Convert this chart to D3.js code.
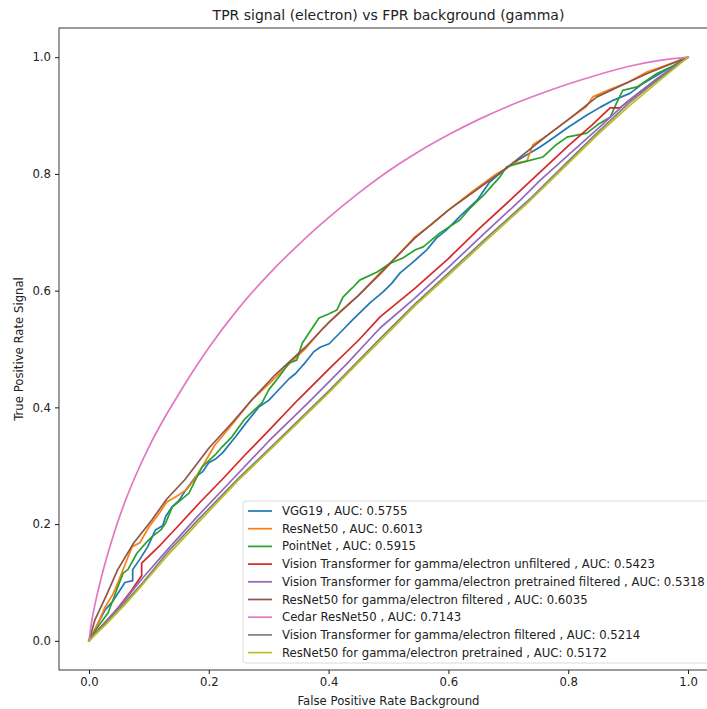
<!DOCTYPE html>
<html>
<head>
<meta charset="utf-8">
<script src="https://cdn.jsdelivr.net/npm/d3@7"></script>
<style>
  body { margin: 0; background: #fff; }
  svg { display: block; font-family: "DejaVu Sans", sans-serif; }
</style>
</head>
<body>
<div id="chart-area"></div>
<script>
const modelNames = [
  "VGG19",
  "ResNet50",
  "PointNet",
  "Vision Transformer for gamma/electron unfiltered",
  "Vision Transformer for gamma/electron pretrained filtered",
  "ResNet50 for gamma/electron filtered",
  "Cedar ResNet50",
  "Vision Transformer for gamma/electron filtered",
  "ResNet50 for gamma/electron pretrained"
];
const aucValues = ["0.5755", "0.6013", "0.5915", "0.5423", "0.5318", "0.6035", "0.7143", "0.5214", "0.5172"];
const colors = ["#1f77b4", "#ff7f0e", "#2ca02c", "#d62728", "#9467bd", "#8c564b", "#e377c2", "#7f7f7f", "#bcbd22"];
const ticks = [0, 0.2, 0.4, 0.6, 0.8, 1.0];

// [fpr, tpr]
const rocVgg19 = [[0,0],[0.010,0.020],[0.027,0.053],[0.040,0.068],[0.052,0.087],[0.060,0.100],[0.073,0.103],[0.073,0.122],[0.085,0.140],[0.098,0.161],[0.111,0.190],[0.123,0.197],[0.128,0.213],[0.139,0.230],[0.150,0.240],[0.162,0.259],[0.178,0.281],[0.190,0.290],[0.200,0.305],[0.212,0.312],[0.223,0.322],[0.245,0.350],[0.262,0.373],[0.284,0.401],[0.300,0.412],[0.312,0.425],[0.334,0.449],[0.345,0.458],[0.362,0.478],[0.375,0.495],[0.386,0.503],[0.401,0.509],[0.424,0.533],[0.440,0.550],[0.452,0.562],[0.470,0.580],[0.491,0.598],[0.505,0.612],[0.519,0.630],[0.540,0.648],[0.564,0.670],[0.580,0.690],[0.597,0.704],[0.620,0.728],[0.648,0.755],[0.668,0.785],[0.686,0.801],[0.710,0.820],[0.753,0.846],[0.770,0.858],[0.800,0.880],[0.830,0.900],[0.853,0.914],[0.875,0.926],[0.903,0.938],[0.925,0.955],[0.953,0.972],[0.975,0.985],[1,1]];
const rocResnet = [[0,0],[0.015,0.030],[0.027,0.058],[0.040,0.080],[0.048,0.099],[0.060,0.130],[0.072,0.161],[0.085,0.168],[0.100,0.195],[0.115,0.215],[0.130,0.238],[0.150,0.250],[0.163,0.259],[0.175,0.275],[0.190,0.300],[0.210,0.335],[0.240,0.372],[0.272,0.413],[0.300,0.440],[0.330,0.470],[0.361,0.500],[0.390,0.535],[0.420,0.565],[0.450,0.592],[0.486,0.628],[0.520,0.665],[0.544,0.692],[0.570,0.712],[0.600,0.738],[0.640,0.770],[0.680,0.800],[0.710,0.818],[0.731,0.822],[0.741,0.850],[0.765,0.866],[0.800,0.893],[0.830,0.915],[0.841,0.932],[0.870,0.945],[0.900,0.957],[0.932,0.975],[0.960,0.985],[1,1]];
const rocPointnet = [[0,0],[0.015,0.024],[0.032,0.048],[0.040,0.070],[0.048,0.092],[0.057,0.116],[0.065,0.122],[0.080,0.150],[0.097,0.170],[0.105,0.178],[0.120,0.190],[0.128,0.202],[0.139,0.229],[0.167,0.253],[0.178,0.276],[0.189,0.298],[0.210,0.318],[0.222,0.332],[0.239,0.350],[0.260,0.380],[0.289,0.408],[0.300,0.430],[0.317,0.452],[0.334,0.476],[0.347,0.481],[0.356,0.510],[0.367,0.527],[0.384,0.553],[0.400,0.560],[0.414,0.567],[0.424,0.589],[0.440,0.605],[0.452,0.618],[0.481,0.632],[0.503,0.647],[0.524,0.656],[0.545,0.670],[0.558,0.675],[0.586,0.699],[0.619,0.721],[0.635,0.740],[0.660,0.765],[0.686,0.795],[0.697,0.812],[0.731,0.822],[0.758,0.829],[0.780,0.850],[0.798,0.863],[0.831,0.870],[0.850,0.885],[0.870,0.897],[0.880,0.920],[0.891,0.943],[0.915,0.949],[0.948,0.972],[0.975,0.985],[1,1]];
const rocVitUnfiltered = [[0,0],[0.020,0.024],[0.045,0.052],[0.070,0.085],[0.088,0.112],[0.088,0.133],[0.120,0.165],[0.150,0.198],[0.185,0.237],[0.222,0.276],[0.260,0.318],[0.300,0.360],[0.349,0.413],[0.400,0.465],[0.450,0.515],[0.486,0.555],[0.544,0.604],[0.600,0.655],[0.650,0.705],[0.703,0.755],[0.753,0.803],[0.800,0.848],[0.840,0.884],[0.870,0.913],[0.886,0.913],[0.920,0.940],[0.960,0.970],[1,1]];
const rocVitPretrainedFiltered = [[0,0],[0.030,0.035],[0.060,0.070],[0.090,0.108],[0.130,0.155],[0.180,0.212],[0.239,0.276],[0.300,0.342],[0.352,0.394],[0.372,0.414],[0.430,0.474],[0.486,0.536],[0.544,0.587],[0.600,0.640],[0.660,0.698],[0.720,0.755],[0.753,0.789],[0.800,0.832],[0.850,0.878],[0.900,0.925],[0.950,0.965],[1,1]];
const rocResnetFiltered = [[0,0],[0.010,0.036],[0.030,0.080],[0.048,0.122],[0.075,0.168],[0.105,0.207],[0.130,0.243],[0.160,0.276],[0.200,0.330],[0.240,0.375],[0.272,0.413],[0.310,0.455],[0.361,0.503],[0.400,0.545],[0.450,0.592],[0.486,0.630],[0.544,0.690],[0.600,0.738],[0.650,0.775],[0.697,0.810],[0.765,0.866],[0.800,0.893],[0.848,0.932],[0.900,0.957],[0.932,0.972],[0.970,0.988],[1,1]];
const rocCedar = [[0,0],[0.005,0.036],[0.010,0.062],[0.020,0.106],[0.030,0.144],[0.045,0.194],[0.060,0.238],[0.080,0.288],[0.100,0.332],[0.125,0.380],[0.150,0.423],[0.175,0.464],[0.200,0.502],[0.250,0.570],[0.300,0.628],[0.350,0.679],[0.400,0.725],[0.450,0.767],[0.500,0.805],[0.550,0.838],[0.600,0.867],[0.650,0.893],[0.700,0.916],[0.750,0.936],[0.800,0.954],[0.850,0.970],[0.900,0.984],[0.950,0.994],[1,1]];
const rocVitFiltered = [[0,0],[0.030,0.033],[0.060,0.066],[0.090,0.100],[0.130,0.150],[0.180,0.205],[0.249,0.278],[0.300,0.328],[0.352,0.380],[0.400,0.428],[0.450,0.480],[0.486,0.518],[0.544,0.577],[0.600,0.630],[0.660,0.687],[0.736,0.757],[0.800,0.822],[0.850,0.872],[0.900,0.920],[0.950,0.962],[1,1]];
const rocResnetPretrained = [[0,0],[0.030,0.030],[0.060,0.062],[0.090,0.097],[0.130,0.145],[0.180,0.200],[0.249,0.275],[0.300,0.325],[0.352,0.377],[0.400,0.425],[0.450,0.477],[0.486,0.514],[0.544,0.574],[0.600,0.626],[0.660,0.683],[0.736,0.754],[0.800,0.818],[0.850,0.868],[0.900,0.915],[0.950,0.958],[1,1]];

const curves = [rocVgg19, rocResnet, rocPointnet, rocVitUnfiltered, rocVitPretrainedFiltered,
  rocResnetFiltered, rocCedar, rocVitFiltered, rocResnetPretrained];

const margin = {top: 28, left: 59};
const width = 659;
const height = 642;
const fontSize = 11.7;

const svg = d3.select("#chart-area")
  .append("svg")
  .attr("width", 707)
  .attr("height", 709);

const g = svg.append("g")
  .attr("transform", `translate(${margin.left},${margin.top})`);

const x = d3.scaleLinear().domain([-0.05, 1.05]).range([0, width]);
const y = d3.scaleLinear().domain([-0.05, 1.05]).range([height, 0]);

const line = d3.line()
  .x(d => x(d[0]))
  .y(d => y(d[1]));

// the Cedar curve is smooth in the original
const smoothLine = d3.line()
  .x(d => x(d[0]))
  .y(d => y(d[1]))
  .curve(d3.curveMonotoneX);

curves.forEach((c, i) => {
  g.append("path")
    .datum(c)
    .attr("d", c === rocCedar ? smoothLine : line)
    .attr("fill", "none")
    .attr("stroke", colors[i])
    .attr("stroke-width", 1.7)
    .attr("stroke-linejoin", "round")
    .attr("stroke-linecap", "square");
});

// axes
const xAxis = g.append("g")
  .attr("transform", `translate(0,${height})`)
  .call(d3.axisBottom(x).tickValues(ticks).tickFormat(d3.format(".1f")).tickSize(4).tickPadding(4));
const yAxis = g.append("g")
  .call(d3.axisLeft(y).tickValues(ticks).tickFormat(d3.format(".1f")).tickSize(4).tickPadding(4));

[xAxis, yAxis].forEach(a => {
  a.select(".domain").remove();
  a.selectAll(".tick line").attr("stroke", "#000").attr("stroke-width", 0.9);
  a.selectAll(".tick text")
    .attr("fill", "#222")
    .style("font-size", fontSize + "px")
    .style("font-family", "DejaVu Sans");
});

// spines
g.append("rect")
  .attr("x", 0)
  .attr("y", 0)
  .attr("width", width)
  .attr("height", height)
  .attr("fill", "none")
  .attr("stroke", "#222")
  .attr("stroke-width", 0.9);

// legend
const legendX = 243, legendY = 501, rowH = 17.7;
const legend = svg.append("g");
legend.append("rect")
  .attr("x", legendX)
  .attr("y", legendY)
  .attr("width", 480)
  .attr("height", 162)
  .attr("rx", 3)
  .attr("fill", "#fff")
  .attr("fill-opacity", 0.8)
  .attr("stroke", "#d6d6d6")
  .attr("stroke-width", 0.9);

modelNames.forEach((name, i) => {
  const cy = legendY + 10 + i * rowH;
  legend.append("line")
    .attr("x1", legendX + 5)
    .attr("x2", legendX + 29)
    .attr("y1", cy)
    .attr("y2", cy)
    .attr("stroke", colors[i])
    .attr("stroke-width", 1.7);
  legend.append("text")
    .attr("x", legendX + 39)
    .attr("y", cy)
    .attr("dominant-baseline", "central")
    .style("font-size", fontSize + "px")
    .attr("fill", "#222")
    .text(`${name} , AUC: ${aucValues[i]}`);
});

// titles
svg.append("text")
  .attr("x", margin.left + width / 2)
  .attr("y", 20)
  .attr("text-anchor", "middle")
  .style("font-size", "14px")
  .attr("fill", "#222")
  .text("TPR signal (electron) vs FPR background (gamma)");

svg.append("text")
  .attr("x", margin.left + width / 2)
  .attr("y", 705)
  .attr("text-anchor", "middle")
  .style("font-size", fontSize + "px")
  .attr("fill", "#222")
  .text("False Positive Rate Background");

svg.append("text")
  .attr("transform", "rotate(-90)")
  .attr("x", -(margin.top + height / 2))
  .attr("y", 23)
  .attr("text-anchor", "middle")
  .style("font-size", fontSize + "px")
  .attr("fill", "#222")
  .text("True Positive Rate Signal");
</script>
</body>
</html>
